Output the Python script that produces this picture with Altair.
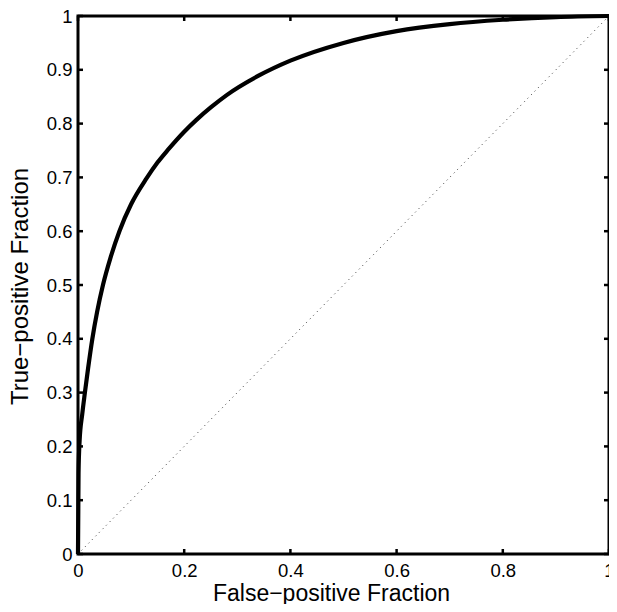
import altair as alt
import pandas as pd

# ROC curve
fpf = [0, 0.001, 0.003, 0.008, 0.013, 0.019, 0.027, 0.036, 0.047, 0.061, 0.078,
       0.1, 0.129, 0.15, 0.17, 0.2, 0.223, 0.25, 0.28, 0.34, 0.4, 0.5, 0.6, 0.7,
       0.8, 0.9, 1.0]
tpf = [0, 0.15, 0.21, 0.26, 0.30, 0.345, 0.40, 0.45, 0.50, 0.55, 0.60,
       0.65, 0.698, 0.728, 0.752, 0.785, 0.807, 0.83, 0.853, 0.889, 0.917, 0.950,
       0.972, 0.985, 0.993, 0.998, 1.0]

# chance diagonal
diag_x = [0, 1]
diag_y = [0, 1]

x_ticks = [0, 0.2, 0.4, 0.6, 0.8, 1]
y_ticks = [0, 0.1, 0.2, 0.3, 0.4, 0.5, 0.6, 0.7, 0.8, 0.9, 1]

W, H = 531, 538
FONT = "Liberation Sans"
TL = 5  # inward tick length

roc = pd.DataFrame({"x": fpf, "y": tpf})
diag = pd.DataFrame({"x": diag_x, "y": diag_y})
xt = pd.DataFrame({"v": x_ticks})
yt = pd.DataFrame({"v": y_ticks})

xscale = alt.Scale(domain=[0, 1], nice=False, zero=False)
yscale = alt.Scale(domain=[0, 1], nice=False, zero=False)

xaxis = alt.Axis(values=x_ticks, format=".1~f", title="False\u2212positive Fraction",
                 domain=False, ticks=False, grid=False, labelPadding=7,
                 labelFontSize=18.5, labelFont=FONT, labelColor="black",
                 titleFontSize=23, titleFont=FONT, titleFontWeight="normal",
                 titleColor="black", titleX=253, titleY=46,
                 titleAlign="center", titleBaseline="alphabetic",
                 labelOverlap=False, labelFlush=False)
yaxis = alt.Axis(values=y_ticks, format=".1~f", title="True\u2212positive Fraction",
                 domain=False, ticks=False, grid=False, labelPadding=6,
                 labelFontSize=18.5, labelFont=FONT, labelColor="black",
                 titleFontSize=24, titleFont=FONT, titleFontWeight="normal",
                 titleColor="black", titleX=-51, titleY=270, titleAngle=-90,
                 titleAlign="center", titleBaseline="alphabetic",
                 labelOverlap=False, labelFlush=False)

diag_layer = alt.Chart(diag).mark_line(
    color="#333333", strokeWidth=1, strokeDash=[1, 4]
).encode(
    x=alt.X("x:Q", scale=xscale, axis=xaxis),
    y=alt.Y("y:Q", scale=yscale, axis=yaxis),
)

curve = alt.Chart(roc).mark_line(
    color="black", strokeWidth=4.2, interpolate="monotone"
).encode(
    x=alt.X("x:Q", scale=xscale),
    y=alt.Y("y:Q", scale=yscale),
)

tick_style = dict(color="black", strokeWidth=2.5)
bottom_ticks = alt.Chart(xt).mark_rule(**tick_style).encode(
    x=alt.X("v:Q", scale=xscale), y=alt.value(H), y2=alt.value(H - TL))
top_ticks = alt.Chart(xt).mark_rule(**tick_style).encode(
    x=alt.X("v:Q", scale=xscale), y=alt.value(0), y2=alt.value(TL))
left_ticks = alt.Chart(yt).mark_rule(**tick_style).encode(
    y=alt.Y("v:Q", scale=yscale), x=alt.value(0), x2=alt.value(TL))
right_ticks = alt.Chart(yt).mark_rule(**tick_style).encode(
    y=alt.Y("v:Q", scale=yscale), x=alt.value(W), x2=alt.value(W - TL))

chart = alt.layer(
    diag_layer, curve, bottom_ticks, top_ticks, left_ticks, right_ticks
).properties(
    width=W, height=H,
    autosize=alt.AutoSizeParams(type="none"),
    padding={"left": 70, "top": 8, "right": 0, "bottom": 50},
    background="white",
).configure_view(
    stroke="black", strokeWidth=3
)

chart.save("out.html", embed_options={"renderer": "svg", "actions": False})
